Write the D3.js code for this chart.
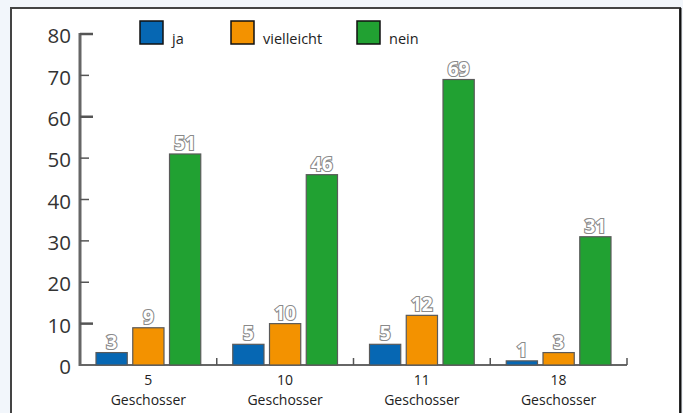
<!DOCTYPE html>
<html><head><meta charset="utf-8">
<script src="https://cdn.jsdelivr.net/npm/d3@7"></script>
<style>
html,body{margin:0;padding:0;background:#f2f6fb;}
svg{display:block;}
</style></head>
<body>
<svg id="c" width="683" height="413"></svg>
<script>
const categories = ["5 Geschosser", "10 Geschosser", "11 Geschosser", "18 Geschosser"];
const seriesNames = ["ja", "vielleicht", "nein"];
const ja = [3, 5, 5, 1];
const vielleicht = [9, 10, 12, 3];
const nein = [51, 46, 69, 31];
const yTicks = [0, 10, 20, 30, 40, 50, 60, 70, 80];
const colors = ["#0667b3", "#f39200", "#21a132"];

const series = [ja, vielleicht, nein];
const svg = d3.select("#c");
const font = "'Open Sans', sans-serif";

// panel
svg.append("rect").attr("x", 11).attr("y", 8).attr("width", 669).attr("height", 410)
  .attr("fill", "#fff").attr("stroke", "#444").attr("stroke-width", 2);
svg.append("line").attr("x1", 680.5).attr("x2", 680.5).attr("y1", 8).attr("y2", 413)
  .attr("stroke", "#111").attr("stroke-width", 2);

const x0 = d3.scaleBand().domain(categories).range([80, 627]).paddingInner(0).paddingOuter(0);
const x1 = d3.scaleBand().domain(seriesNames).range([16, x0.bandwidth() - 16]).paddingInner(0.15);
const y = d3.scaleLinear().domain([0, 80]).range([365, 34]);

// y axis
const yAxis = d3.axisLeft(y).tickValues(yTicks).tickSize(0).tickPadding(9);
const yg = svg.append("g").attr("transform", "translate(80,0)").call(yAxis);
yg.select(".domain").remove();
yg.selectAll("text").attr("font-family", font).attr("font-size", 20.5)
  .attr("fill", "#333").attr("dy", "0.42em");
svg.append("line").attr("x1", 80).attr("x2", 80).attr("y1", y(80) - 1).attr("y2", y(0) + 1)
  .attr("stroke", "#666").attr("stroke-width", 3);
svg.selectAll(".ytick").data(yTicks.filter(d => d > 0)).join("line")
  .attr("class", "ytick")
  .attr("x1", 80).attr("x2", d => (d === 80 || d === 60 || d === 10) ? 93 : 89)
  .attr("y1", d => y(d)).attr("y2", d => y(d))
  .attr("stroke", "#555").attr("stroke-width", d => (d === 80 || d === 60 || d === 10) ? 2.5 : 1.5);

// x baseline
svg.append("line").attr("x1", 80).attr("x2", 627).attr("y1", y(0)).attr("y2", y(0))
  .attr("stroke", "#666").attr("stroke-width", 2);
svg.selectAll(".xtick").data(categories.slice(1).concat(["end"])).join("line")
  .attr("class", "xtick")
  .attr("x1", d => d === "end" ? 627 : x0(d)).attr("x2", d => d === "end" ? 627 : x0(d))
  .attr("y1", y(0)).attr("y2", y(0) - 7)
  .attr("stroke", "#555").attr("stroke-width", 1.5);

// category labels
const catG = svg.append("g");
categories.forEach(c => {
  const parts = c.split(" ");
  const cx = x0(c) + x0.bandwidth() / 2;
  catG.append("text").attr("x", cx).attr("y", 385).attr("text-anchor", "middle")
    .attr("font-family", font).attr("font-size", 14).attr("fill", "#222").text(parts[0]);
  catG.append("text").attr("x", cx).attr("y", 404.5).attr("text-anchor", "middle")
    .attr("font-family", font).attr("font-size", 14).attr("fill", "#222").text(parts[1]);
});

// bars
const groups = svg.selectAll(".grp").data(categories).join("g")
  .attr("class", "grp").attr("transform", d => `translate(${x0(d)},0)`);
groups.each(function(cat, ci) {
  const g = d3.select(this);
  seriesNames.forEach((s, si) => {
    const v = series[si][ci];
    g.append("rect").attr("x", x1(s)).attr("width", x1.bandwidth())
      .attr("y", y(v)).attr("height", y(0) - y(v))
      .attr("fill", colors[si]).attr("stroke", "#5a5a5a").attr("stroke-width", 1.2);
    g.append("text").attr("x", x1(s) + x1.bandwidth() / 2).attr("y", y(v) - 4)
      .attr("text-anchor", "middle").attr("font-family", font)
      .attr("font-size", 19).attr("font-weight", "bold")
      .attr("fill", "#fff").attr("stroke", "#8a8a8a").attr("stroke-width", 2.2)
      .attr("paint-order", "stroke").text(v);
  });
});

// legend
const legX = [140, 231, 357];
const leg = svg.selectAll(".leg").data(seriesNames).join("g").attr("class", "leg")
  .attr("transform", (d, i) => `translate(${legX[i]},21)`);
leg.append("rect").attr("width", 23).attr("height", 23)
  .attr("fill", (d, i) => colors[i]).attr("stroke", "#111").attr("stroke-width", 1.5);
leg.append("text").attr("x", 32).attr("y", 23).attr("font-family", font)
  .attr("font-size", 14.5).attr("fill", "#222").text(d => d);
</script>
</body></html>
